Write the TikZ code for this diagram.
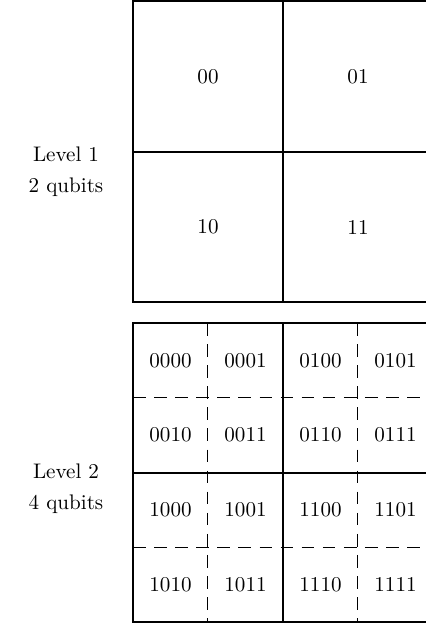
\documentclass[tikz,border=0pt]{standalone}
\begin{document}
\begin{tikzpicture}[x=0.4742pt,y=-0.4742pt,
  gridline/.style={line width=0.95pt},
  subline/.style={line width=0.47pt, dash pattern=on 6pt off 4pt},
  lbl/.style={align=center, inner sep=0pt},
  cell/.style={inner sep=0pt}]
\useasboundingbox (0,0) rectangle (426,623);
% Level 1 grid
\draw[gridline] (433,1) -- (133,1) -- (133,302) -- (433,302);
\draw[gridline] (283,1) -- (283,302);
\draw[gridline] (133,152) -- (433,152);
\node[cell] (c00) at (208,76.5) {00};
\node[cell] (c01) at (358,76.5) {01};
\node[cell] (c10) at (208,227) {10};
\node[cell] (c11) at (358,227) {11};
\node[lbl] (lv1) at (66,172) {Level 1\\[2.5pt]2 qubits};
% Level 2 grid
\draw[subline] (207.5,323) -- (207.5,622);
\draw[subline] (357.5,323) -- (357.5,622);
\draw[subline] (133,397.5) -- (433,397.5);
\draw[subline] (133,547.5) -- (433,547.5);
\draw[gridline] (433,323) -- (133,323) -- (133,622) -- (433,622);
\draw[gridline] (283,323) -- (283,622);
\draw[gridline] (133,473) -- (433,473);
\foreach \lab [count=\i from 0] in {0000,0001,0100,0101,0010,0011,0110,0111,1000,1001,1100,1101,1010,1011,1110,1111}{
  \pgfmathtruncatemacro{\col}{mod(\i,4)}
  \pgfmathtruncatemacro{\row}{div(\i,4)}
  \node[cell] (q\i) at ({170.5+75*\col},{360.4+74.75*\row}) {\lab};
}
\node[lbl] (lv2) at (66,489) {Level 2\\[2.5pt]4 qubits};
\end{tikzpicture}
\end{document}
